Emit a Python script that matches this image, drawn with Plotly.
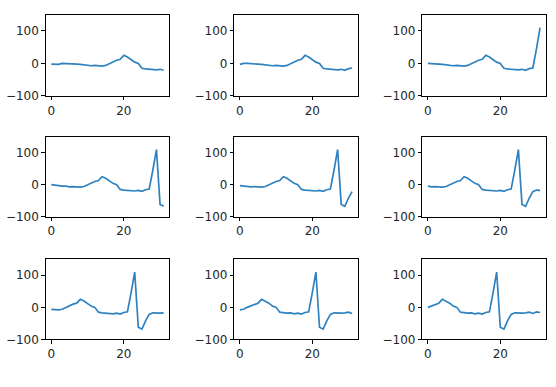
import plotly.graph_objects as go
from plotly.subplots import make_subplots

# Nine windows of the same signal (each 32 samples)
w1 = [-2, -2, -3, 0, 0, 0, 0, -2, -3, -5, -5, -7, -6, -8, -8, -6, 0, 5, 10, 13, 25, 20, 13, 4, 0, -15, -17, -18, -17, -20, -18, -21]
w2 = [-3, 0, 0, 0, 0, -2, -3, -5, -5, -7, -6, -8, -8, -6, 0, 5, 10, 13, 25, 20, 13, 4, 0, -15, -17, -18, -17, -20, -18, -21, -16, -14]
w3 = [0, 0, 0, -2, -3, -5, -5, -7, -6, -8, -8, -6, 0, 5, 10, 13, 25, 20, 13, 4, 0, -15, -17, -18, -17, -20, -18, -21, -16, -14, 45, 110]
w4 = [0, -2, -3, -5, -5, -7, -6, -8, -8, -6, 0, 5, 10, 13, 25, 20, 13, 4, 0, -15, -17, -18, -17, -20, -18, -21, -16, -14, 45, 110, -62, -68]
w5 = [-3, -5, -5, -7, -6, -8, -8, -6, 0, 5, 10, 13, 25, 20, 13, 4, 0, -15, -17, -18, -17, -20, -18, -21, -16, -14, 45, 110, -62, -68, -42, -22]
w6 = [-5, -7, -6, -8, -8, -6, 0, 5, 10, 13, 25, 20, 13, 4, 0, -15, -17, -18, -17, -20, -18, -21, -16, -14, 45, 110, -62, -68, -42, -22, -17, -18]
w7 = [-6, -8, -8, -6, 0, 5, 10, 13, 25, 20, 13, 4, 0, -15, -17, -18, -17, -20, -18, -21, -16, -14, 45, 110, -62, -68, -42, -22, -17, -18, -18, -17]
w8 = [-8, -6, 0, 5, 10, 13, 25, 20, 13, 4, 0, -15, -17, -18, -17, -20, -18, -21, -16, -14, 45, 110, -62, -68, -42, -22, -17, -18, -18, -17, -15, -19]
w9 = [0, 5, 10, 13, 25, 20, 13, 4, 0, -15, -17, -18, -17, -20, -18, -21, -16, -14, 45, 110, -62, -68, -42, -22, -17, -18, -18, -17, -15, -19, -14, -16]
windows = [w1, w2, w3, w4, w5, w6, w7, w8, w9]

x_ticks = [0, 20]
y_ticks = [-100, 0, 100]

W, H = 556, 387
col_px = [(45.7, 169.3), (234.3, 357.7), (422.3, 545.7)]
row_px = [(15.0, 97.7), (139.3, 220.5), (264.0, 345.7)]

fig = make_subplots(rows=3, cols=3)
for i, w in enumerate(windows):
    r, c = divmod(i, 3)
    fig.add_trace(
        go.Scatter(x=list(range(len(w))), y=w, mode="lines",
                   line=dict(color="#2e82c0", width=1.7), showlegend=False),
        row=r + 1, col=c + 1,
    )
    k = "" if i == 0 else str(i + 1)
    x0, x1 = col_px[c]
    y0, y1 = row_px[r]
    fig.layout["xaxis" + k].update(
        domain=[x0 / W, x1 / W], range=[-1.55, 32.55],
        tickvals=x_ticks, ticks="outside", ticklen=3.5, tickwidth=0.8, tickcolor="#000",
        showline=True, linecolor="#000", linewidth=0.8, mirror=True,
        showgrid=False, zeroline=False,
    )
    fig.layout["yaxis" + k].update(
        domain=[1 - y1 / H, 1 - y0 / H], range=[-100, 150],
        tickvals=y_ticks, ticks="outside", ticklen=3.5, tickwidth=0.8, tickcolor="#000",
        showline=True, linecolor="#000", linewidth=0.8, mirror=True,
        showgrid=False, zeroline=False,
    )

fig.update_layout(
    width=W, height=H,
    margin=dict(l=0, r=0, t=0, b=0),
    paper_bgcolor="white", plot_bgcolor="white",
    font=dict(family="DejaVu Sans", size=12, color="#262626"),
)

fig.write_html("out.html",
               config={"displayModeBar": False},
               post_script="document.body.style.margin='0';document.body.style.padding='0';")
